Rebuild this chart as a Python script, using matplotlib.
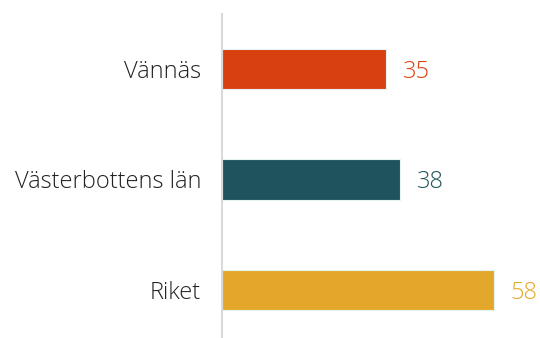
import matplotlib.pyplot as plt

categories = ["Vännäs", "Västerbottens län", "Riket"]
values = [35, 38, 58]
colors = ["#D9400F", "#1F545C", "#E3A82B"]

family = "Open Sans"

fig = plt.figure(figsize=(5.4, 3.38), dpi=100)
ax = fig.add_axes([222 / 540, 0, 318 / 540, 1 - 14 / 338])

y = list(range(len(categories)))
ax.barh(y, values, height=0.37, color=colors, edgecolor="#E6F2EE", linewidth=0.8)

ax.set_xlim(0, 318 / 4.69)
ax.set_ylim(2 + 48 / 110.5, -55 / 110.5)

for yi, v, c in zip(y, values, colors):
    ax.text(v + 3.5, yi, str(v), va="center_baseline", ha="left", color=c,
            fontsize=17, family=family, fontweight="light")

ax.set_yticks(y)
ax.set_yticklabels(categories, family=family, fontweight="light", fontsize=17, color="#222222")
ax.tick_params(axis="y", length=0, pad=15)
ax.set_xticks([])
for s in ["top", "right", "bottom"]:
    ax.spines[s].set_visible(False)
ax.spines["left"].set_color("#D9D9D9")
ax.spines["left"].set_linewidth(1.5)

fig.savefig("out.png", dpi=100)
